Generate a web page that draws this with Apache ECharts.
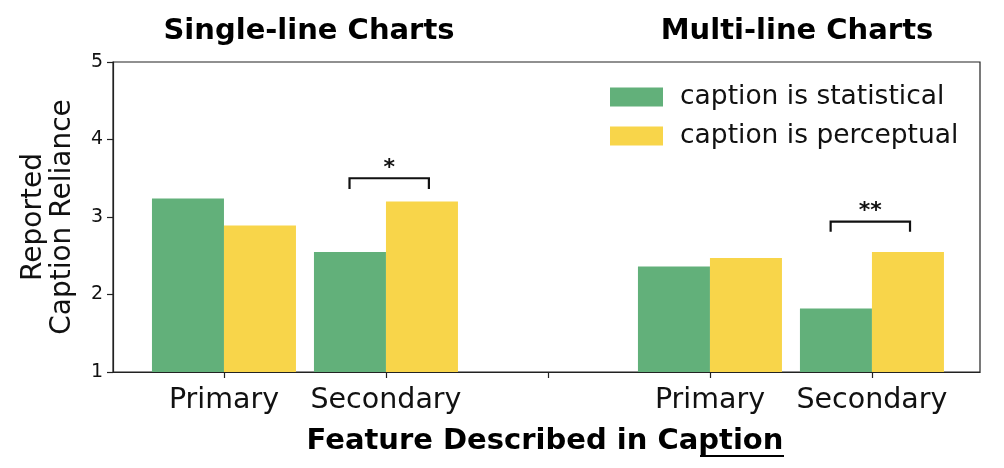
<!DOCTYPE html>
<html><head><meta charset="utf-8">
<script src="https://cdn.jsdelivr.net/npm/echarts@6/dist/echarts.min.js"></script>
<style>html,body{margin:0;padding:0;background:#fff}#c{width:1004px;height:468px}</style>
</head><body><div id="c"></div>
<script>
const categories = ['Primary', 'Secondary', '', 'Primary', 'Secondary'];
const positions = [0, 1, 3, 4];
const statistical = [3.24, 2.55, 2.36, 1.82];
const perceptual = [2.89, 3.20, 2.47, 2.55];
const yTicks = [1, 2, 3, 4, 5];
const panelTitles = ['Single-line Charts', 'Multi-line Charts'];
// significance brackets: [center x, top y, leg y, label]
const brackets = [[1.02, 3.50, 3.36, '*'], [3.99, 2.94, 2.81, '**']];

const FONT = 'DejaVu Sans';
const GREEN = '#62b07a';
const YELLOW = '#f8d54a';
const AX = '#222';

const chart = echarts.init(document.getElementById('c'), null, {renderer: 'canvas'});
chart.setOption({
  animation: false,
  backgroundColor: '#fff',
  textStyle: {fontFamily: FONT},
  grid: {left: 113, right: 24, top: 62, bottom: 96, show: true, borderColor: AX, borderWidth: 1.2, backgroundColor: 'transparent'},
  legend: {
    left: 605, top: 77, orient: 'vertical', itemWidth: 53, itemHeight: 19, itemGap: 9,
    icon: 'rect',
    textStyle: {fontFamily: FONT, fontSize: 26.5, lineHeight: 30, color: '#111', padding: [0, 0, 0, 12]},
    data: ['caption is statistical', 'caption is perceptual']
  },
  xAxis: {
    type: 'value', min: -0.685, max: 4.667,
    splitLine: {show: false},
    axisLine: {show: true, onZero: false, lineStyle: {color: AX, width: 1.2}},
    axisTick: {show: true, customValues: categories.map((c, i) => i), length: 6, lineStyle: {color: AX, width: 1.2}},
    axisLabel: {
      customValues: positions, fontFamily: FONT, fontSize: 28.5, color: '#111', margin: 14,
      formatter: v => categories[Math.round(v)]
    }
  },
  yAxis: {
    type: 'value', min: yTicks[0], max: yTicks[yTicks.length - 1], interval: 1,
    splitLine: {show: false},
    axisLine: {show: true, onZero: false, lineStyle: {color: AX, width: 1.2}},
    axisTick: {show: true, length: 6, lineStyle: {color: AX, width: 1.2}},
    axisLabel: {fontFamily: FONT, fontSize: 19, color: '#111', margin: 10},
    name: 'Reported\nCaption Reliance', nameLocation: 'middle', nameRotate: 90, nameGap: 36,
    nameTextStyle: {fontFamily: FONT, fontSize: 28, color: '#111', lineHeight: 29}
  },
  series: [
    {name: 'caption is statistical', type: 'bar', barWidth: 72, barGap: '0%',
     itemStyle: {color: GREEN}, data: positions.map((p, i) => [p, statistical[i]])},
    {name: 'caption is perceptual', type: 'bar', barWidth: 72, barGap: '0%',
     itemStyle: {color: YELLOW}, data: positions.map((p, i) => [p, perceptual[i]])},
    {type: 'custom', silent: true, z: 10,
     data: brackets,
     renderItem: function (params, api) {
       const x = api.value(0), top = api.value(1), leg = api.value(2);
       const hw = 0.245;
       const p1 = api.coord([x - hw, leg]), p2 = api.coord([x - hw, top]);
       const p3 = api.coord([x + hw, top]), p4 = api.coord([x + hw, leg]);
       const mid = api.coord([x, top]);
       return {type: 'group', children: [
         {type: 'polyline', shape: {points: [p1, p2, p3, p4]}, style: {stroke: '#111', lineWidth: 2.2, fill: null}},
         {type: 'text', x: mid[0], y: mid[1] + 1, style: {text: brackets[params.dataIndex][3], align: 'center', verticalAlign: 'bottom', font: 'bold 22px "DejaVu Sans"', fill: '#111'}}
       ]};
     }}
  ],
  graphic: [
    {type: 'text', x: 309, y: 31, style: {text: panelTitles[0], align: 'center', verticalAlign: 'middle', font: 'bold 29px "DejaVu Sans"', fill: '#000'}},
    {type: 'text', x: 797, y: 31, style: {text: panelTitles[1], align: 'center', verticalAlign: 'middle', font: 'bold 29px "DejaVu Sans"', fill: '#000'}},
    {type: 'text', x: 545, y: 441, style: {text: 'Feature Described in Caption', align: 'center', verticalAlign: 'middle', font: 'bold 29px "DejaVu Sans"', fill: '#000'}},
    {type: 'line', shape: {x1: 700, y1: 456, x2: 784, y2: 456}, style: {stroke: '#000', lineWidth: 2}}
  ]
});
</script></body></html>
